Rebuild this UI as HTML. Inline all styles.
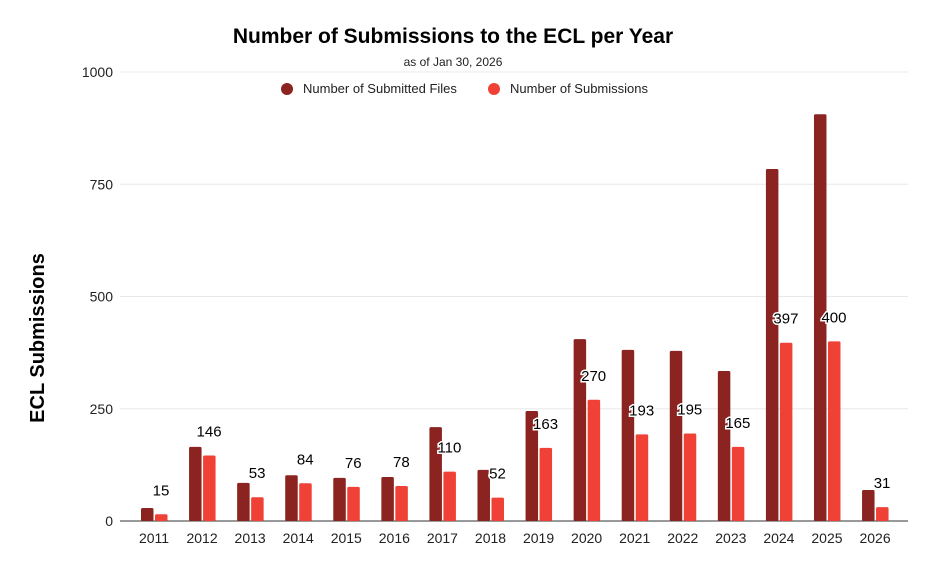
<!DOCTYPE html>
<html><head><meta charset="utf-8"><style>
body{margin:0;background:#fff;}
svg{display:block;font-family:"Liberation Sans",Arial,sans-serif;}
</style></head><body>
<svg id="c" width="936" height="580">
<text x="453" y="43" text-anchor="middle" font-size="21" font-weight="bold" fill="#000">Number of Submissions to the ECL per Year</text>
<text x="453" y="66" text-anchor="middle" font-size="12" fill="#222">as of Jan 30, 2026</text>
<g>
<g><circle cx="287" cy="89" r="6" fill="#8b2320"/><text x="303" y="93" font-size="13" fill="#222">Number of Submitted Files</text></g>
<g><circle cx="494" cy="89" r="6" fill="#ef4136"/><text x="510" y="93" font-size="13" fill="#222">Number of Submissions</text></g>
</g>
<text transform="translate(44,338) rotate(-90)" text-anchor="middle" font-size="20" font-weight="bold" fill="#000">ECL Submissions</text>
<g id="grid"></g><g id="bars"></g>
</svg>
<script>
const years=["2011","2012","2013","2014","2015","2016","2017","2018","2019","2020","2021","2022","2023","2024","2025","2026"];
const files=[29,165,85,102,96,98,209,114,245,405,381,379,334,784,906,69];
const subs=[15,146,53,84,76,78,110,52,163,270,193,195,165,397,400,31];
const yTicks=[0,250,500,750,1000];
const NS="http://www.w3.org/2000/svg";
const y0=521,yTop=72,yMax=1000,left=120,right=908,x0=154,step=48.07;
function y(v){return y0-(v/yMax)*(y0-yTop);}
function x(i){return x0+i*step;}
function mk(t,a,p){const e=document.createElementNS(NS,t);for(const k in a)e.setAttribute(k,a[k]);p.appendChild(e);return e;}
const g=document.getElementById('grid'),b=document.getElementById('bars');
yTicks.forEach(v=>{
 const l=mk('line',{x1:left,x2:right,y1:y(v),y2:y(v),stroke:v===0?'#333':'#e8e8e8','stroke-width':1},g);
 
 
 const t=mk('text',{x:113,y:y(v)+5,'text-anchor':'end','font-size':14,fill:'#222'},g);t.textContent=v;
 
 
});
years.forEach((yr,i)=>{
 const c=x(i);
 const r1=mk('rect',{x:c-13,y:y(files[i]),width:12.5,height:y0-y(files[i]),fill:'#8b2320',rx:1.5},b);
 
 
 const r2=mk('rect',{x:c+1,y:y(subs[i]),width:12.5,height:y0-y(subs[i]),fill:'#ef4136',rx:1.5},b);
 
 
 const lb=mk('text',{x:c+7,y:y(subs[i])-19,'text-anchor':'middle','font-size':15,fill:'#000',stroke:'#fff','stroke-width':3,'paint-order':'stroke'},b);
 lb.textContent=subs[i];
 
 
 const xt=mk('text',{x:c,y:543,'text-anchor':'middle','font-size':14,fill:'#222'},b);
 xt.textContent=yr;
 
 
});
</script>
</body></html>
